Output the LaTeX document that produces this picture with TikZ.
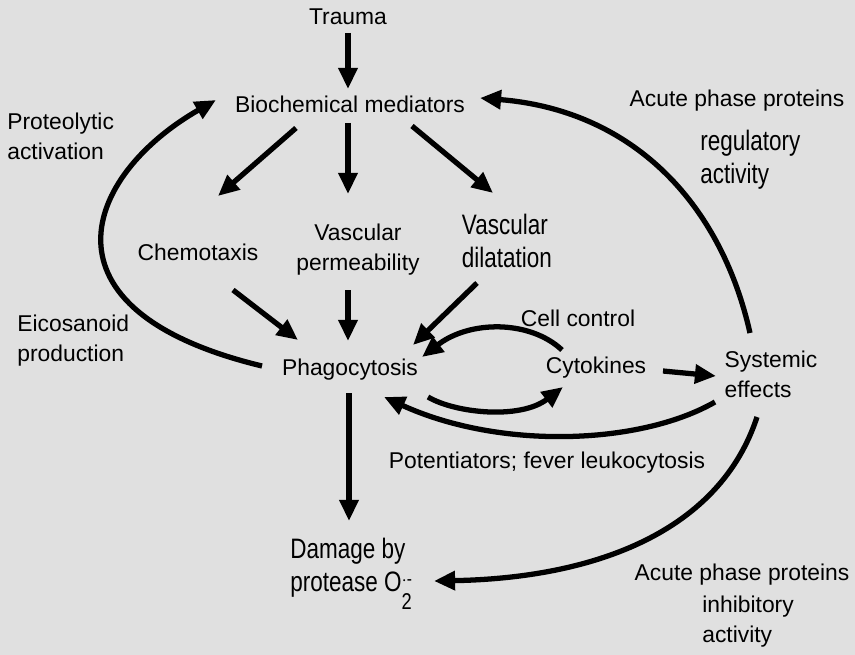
\documentclass[tikz,border=0pt]{standalone}
\usepackage{fontspec}
\setmainfont{Liberation Sans}
\newfontfamily\narrowfont[FakeStretch=0.8]{Liberation Sans}
\usetikzlibrary{arrows.meta,calc}
\definecolor{bggray}{HTML}{E0E0E0}

\begin{document}
\begin{tikzpicture}[x=0.02cm,y=-0.02cm,
  lbl/.style={inner sep=0pt,font=\fontsize{13}{17}\selectfont},
  tall/.style={inner sep=0pt,font=\narrowfont\fontsize{16}{19}\selectfont},
  arr/.style={line width=3pt,-{Triangle[length=12pt,width=10.5pt]}}]

\fill[bggray] (0,0) rectangle (855,655);
\useasboundingbox (0,0) rectangle (855,655);

% main chain
\node[lbl] (trauma) at (348,17) {Trauma};
\node[lbl] (biochem) at (350,104) {Biochemical mediators};
\node[lbl] (chemo) at (198,252) {Chemotaxis};
\node[lbl,align=center] (vperm) at (358,250) {Vascular\\permeability};
\node[tall,align=left] (vdil) at (507,241) {Vascular\\dilatation};
\node[lbl] (phago) at (350,370) {Phagocytosis};
\node[lbl] (cyto) at (596,368) {Cytokines};
\node[lbl,align=left] (syst) at (771,374) {Systemic\\effects};
\node[tall,align=left,anchor=west] (damage) at (290,574)
  {Damage by\\protease O\rlap{\raisebox{0.45ex}{\fontsize{11}{11}\selectfont$\cdot$-}}\raisebox{-1.2ex}{\fontsize{13}{13}\selectfont 2}};

% side labels
\node[lbl,align=left,anchor=west] (proteo) at (7,136) {Proteolytic\\activation};
\node[lbl,align=left,anchor=west] (eico) at (17,341) {Eicosanoid\\production};
\node[lbl] (acutetop) at (737,101) {Acute phase proteins};
\node[tall,align=left,anchor=west] (regul) at (700,160) {regulatory\\activity};
\node[lbl] (cellctl) at (578,318) {Cell control};
\node[lbl] (potent) at (547,463) {Potentiators; fever leukocytosis};
\node[lbl] (acutebot) at (742,575) {Acute phase proteins};
\node[lbl,align=left,anchor=west] (inhib) at (702,622) {inhibitory\\activity};

% arrows
\draw[arr] ($(trauma)+(0,16)$) -- ($(biochem)+(-2,-15)$);
\draw[arr] ($(biochem)+(-54,24)$) -- ($(chemo)+(20,-56)$);
\draw[arr] ($(biochem)+(-2,19)$) -- ($(vperm)+(-10,-56)$);
\draw[arr] ($(biochem)+(62,22)$) -- ($(vdil)+(-14,-48)$);
\draw[arr] ($(chemo)+(35,38)$) -- ($(phago)+(-52,-30)$);
\draw[arr] ($(vperm)+(-10,40)$) -- ($(phago)+(-2,-29)$);
\draw[arr] ($(vdil)+(-30,42)$) -- ($(phago)+(63,-25)$);
\draw[arr] ($(phago)+(-88,-4)$) .. controls +(-232,-56) and +(-131,75) .. ($(biochem)+(-134,-4)$);
\draw[arr] ($(cyto)+(-34,-18)$) .. controls +(-32,-30) and +(48,-37) .. ($(phago)+(72,-13)$);
\draw[arr] ($(phago)+(78,27)$) .. controls +(27,16) and +(-43,33) .. ($(cyto)+(-33,19)$);
\draw[arr] ($(cyto)+(67,3)$) -- ($(syst)+(-55,2)$);
\draw[arr] ($(syst)+(-56,28)$) .. controls +(-75,43) and +(116,53) .. ($(phago)+(34,27)$);
\draw[arr] ($(syst)+(-21,-41)$) .. controls +(-30,-133) and +(150,12) .. ($(biochem)+(130,-6)$);
\draw[arr] ($(syst)+(-14,43)$) .. controls +(-37,113) and +(164,-3) .. ($(damage.west)+(144,7)$);
\draw[arr] ($(phago)+(-1,23)$) -- ($(phago)+(-1,151)$);

\end{tikzpicture}
\end{document}
